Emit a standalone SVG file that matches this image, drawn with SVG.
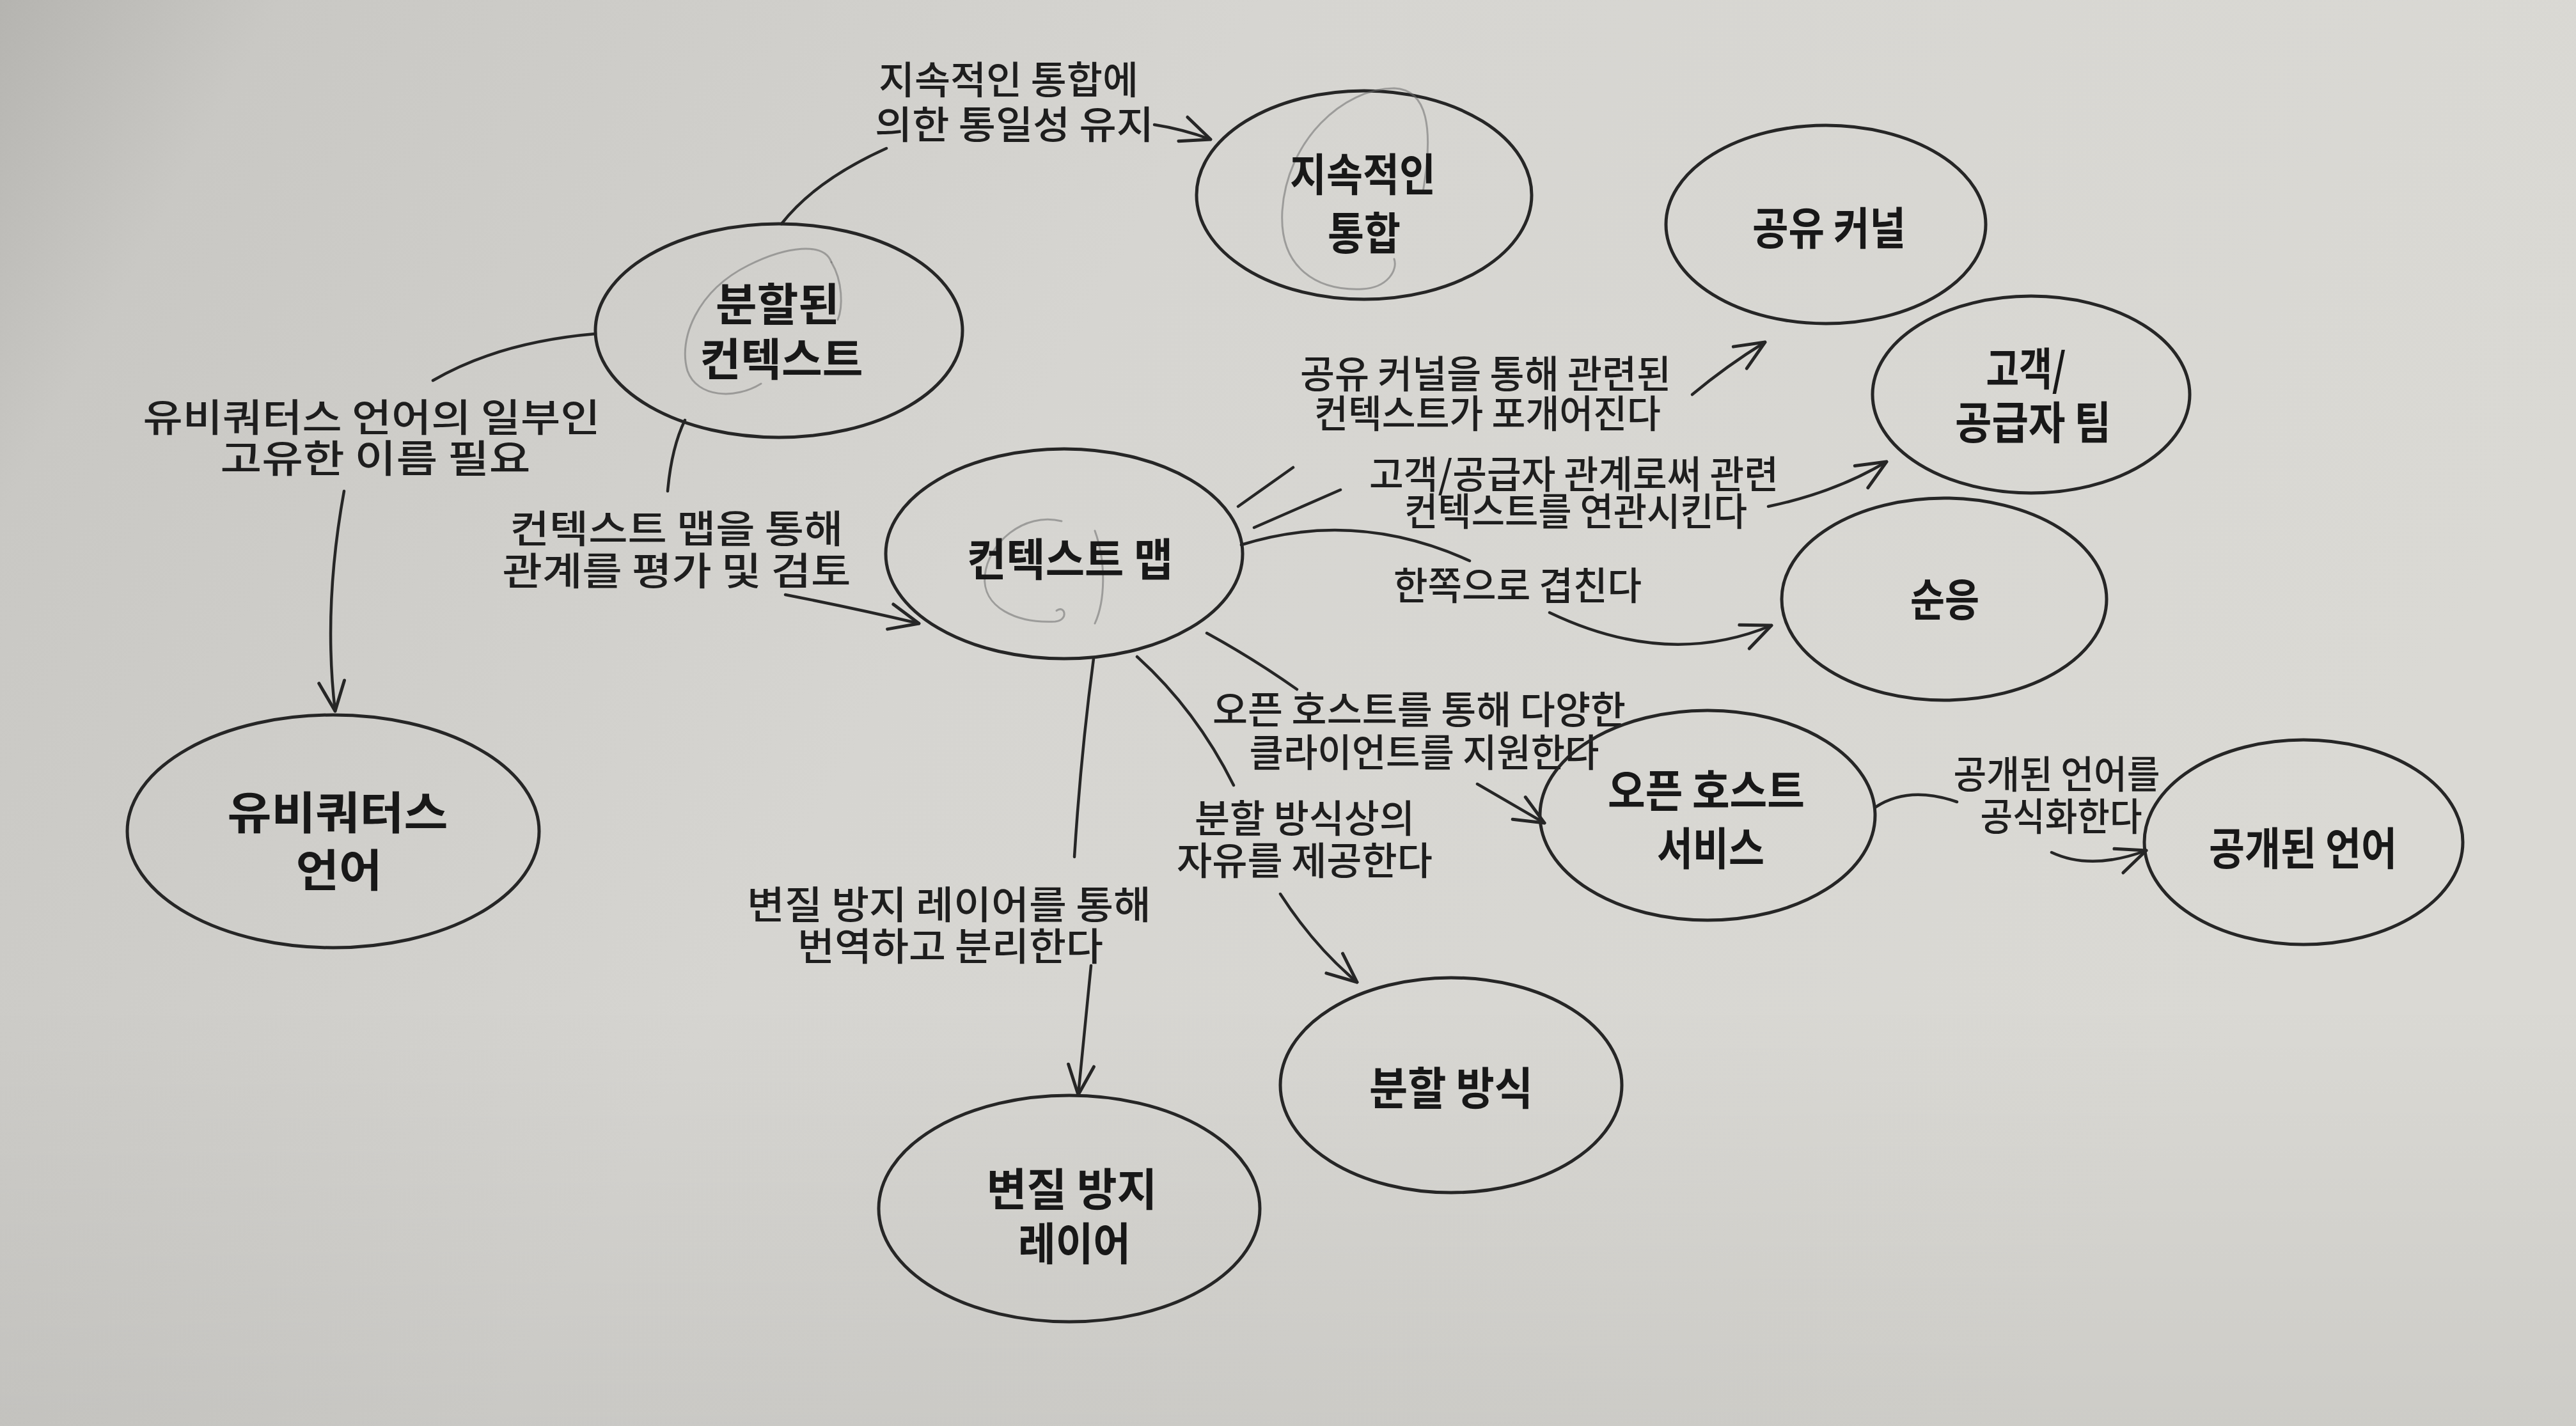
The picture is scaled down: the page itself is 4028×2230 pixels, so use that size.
<svg xmlns="http://www.w3.org/2000/svg" width="4028" height="2230" viewBox="0 0 4028 2230">
<defs>
<linearGradient id="bg" x1="0" y1="0" x2="1" y2="0.3">
<stop offset="0" stop-color="#b5b4b0"/>
<stop offset="0.1" stop-color="#c9c8c4"/>
<stop offset="0.45" stop-color="#d6d5d1"/>
<stop offset="1" stop-color="#dad9d4"/>
</linearGradient>
<linearGradient id="shade" x1="0" y1="0" x2="0" y2="1">
<stop offset="0" stop-color="#000" stop-opacity="0"/>
<stop offset="0.7" stop-color="#000" stop-opacity="0"/>
<stop offset="1" stop-color="#000" stop-opacity="0.06"/>
</linearGradient>
<marker id="arr" markerUnits="userSpaceOnUse" markerWidth="90" markerHeight="90" viewBox="-60 -45 90 90" refX="0" refY="0" orient="auto">
<path d="M -46 -20 L 0 0 L -46 20" fill="none" stroke="#262626" stroke-width="5" stroke-linecap="round" stroke-linejoin="round"/>
</marker>
<style>
.node ellipse{fill:none;stroke:#262626;stroke-width:5}
.nl{font-family:"Noto Sans CJK KR","Noto Sans",sans-serif;font-weight:700;font-size:70px;fill:#181818;text-anchor:middle;dominant-baseline:central}
.el{font-family:"Noto Sans CJK KR","Noto Sans",sans-serif;font-weight:500;font-size:60px;fill:#1e1e1e;text-anchor:middle;dominant-baseline:central}
.conn path{fill:none;stroke:#262626;stroke-width:4.5;stroke-linecap:round}
.conn path.a{marker-end:url(#arr)}
.pencil{fill:none;stroke:#6e6e6e;stroke-width:3;opacity:0.55;stroke-linecap:round}
</style>
</defs>
<rect width="4028" height="2230" fill="url(#bg)"/>
<rect width="4028" height="2230" fill="url(#shade)"/>

<g id="connectors" class="conn">
<path d="M 1222 350 Q 1275 282 1386 232"/>
<path class="a" d="M 1805 195 Q 1850 202 1893 218"/>
<path d="M 931 522 Q 780 535 677 595"/>
<path class="a" d="M 538 768 Q 505 950 524 1112"/>
<path d="M 1071 657 Q 1050 700 1044 768"/>
<path class="a" d="M 1228 930 Q 1340 952 1437 975"/>
<path d="M 1936 792 L 2022 731"/>
<path class="a" d="M 2646 617 Q 2700 572 2760 535"/>
<path d="M 1961 825 L 2096 766"/>
<path class="a" d="M 2765 792 Q 2870 770 2950 722"/>
<path d="M 1941 852 Q 2120 796 2298 877"/>
<path class="a" d="M 2423 958 Q 2607 1046 2770 978"/>
<path d="M 1887 990 Q 1960 1030 2028 1078"/>
<path class="a" d="M 2310 1226 L 2415 1287"/>
<path d="M 1778 1027 Q 1870 1110 1929 1228"/>
<path class="a" d="M 2002 1398 Q 2055 1480 2122 1536"/>
<path d="M 1710 1030 Q 1690 1180 1680 1340"/>
<path class="a" d="M 1706 1510 L 1686 1712"/>
<path d="M 2933 1262 Q 2985 1228 3060 1254"/>
<path class="a" d="M 3208 1333 Q 3270 1362 3356 1330"/>
</g>

<g id="edge-labels">
<text class="el" x="1577" y="120" textLength="406" lengthAdjust="spacingAndGlyphs">지속적인 통합에</text>
<text class="el" x="1586" y="190" textLength="436" lengthAdjust="spacingAndGlyphs">의한 통일성 유지</text>
<text class="el" x="581" y="648" textLength="715" lengthAdjust="spacingAndGlyphs">유비쿼터스 언어의 일부인</text>
<text class="el" x="587" y="712" textLength="485" lengthAdjust="spacingAndGlyphs">고유한 이름 필요</text>
<text class="el" x="1058" y="822" textLength="521" lengthAdjust="spacingAndGlyphs">컨텍스트 맵을 통해</text>
<text class="el" x="1058" y="888" textLength="545" lengthAdjust="spacingAndGlyphs">관계를 평가 및 검토</text>
<text class="el" x="2323" y="580" textLength="580" lengthAdjust="spacingAndGlyphs">공유 커널을 통해 관련된</text>
<text class="el" x="2326" y="642" textLength="542" lengthAdjust="spacingAndGlyphs">컨텍스트가 포개어진다</text>
<text class="el" x="2461" y="737" textLength="640" lengthAdjust="spacingAndGlyphs">고객/공급자 관계로써 관련</text>
<text class="el" x="2464" y="795" textLength="536" lengthAdjust="spacingAndGlyphs">컨텍스트를 연관시킨다</text>
<text class="el" x="2373" y="911" textLength="388" lengthAdjust="spacingAndGlyphs">한쪽으로 겹친다</text>
<text class="el" x="2219" y="1105" textLength="646" lengthAdjust="spacingAndGlyphs">오픈 호스트를 통해 다양한</text>
<text class="el" x="2227" y="1172" textLength="547" lengthAdjust="spacingAndGlyphs">클라이언트를 지원한다</text>
<text class="el" x="2040" y="1275" textLength="344" lengthAdjust="spacingAndGlyphs">분할 방식상의</text>
<text class="el" x="2040" y="1341" textLength="400" lengthAdjust="spacingAndGlyphs">자유를 제공한다</text>
<text class="el" x="1484" y="1410" textLength="632" lengthAdjust="spacingAndGlyphs">변질 방지 레이어를 통해</text>
<text class="el" x="1486" y="1475" textLength="478" lengthAdjust="spacingAndGlyphs">번역하고 분리한다</text>
<text class="el" x="3216" y="1206" textLength="323" lengthAdjust="spacingAndGlyphs">공개된 언어를</text>
<text class="el" x="3223" y="1272" textLength="253" lengthAdjust="spacingAndGlyphs">공식화한다</text>
</g>

<g id="node-continuous-integration" class="node">
<ellipse cx="2133" cy="305" rx="262" ry="163"/>
<path class="pencil" d="M 2225 300 C 2242 200 2232 140 2180 138 C 2100 138 2012 220 2005 330 C 2000 420 2060 455 2130 452 C 2170 450 2186 422 2180 405"/>
<text class="nl" x="2131" y="268" textLength="228" lengthAdjust="spacingAndGlyphs">지속적인</text>
<text class="nl" x="2133" y="360" textLength="114" lengthAdjust="spacingAndGlyphs">통합</text>
</g>

<g id="node-shared-kernel" class="node">
<ellipse cx="2855" cy="351" rx="250" ry="155"/>
<text class="nl" x="2860" y="352" textLength="240" lengthAdjust="spacingAndGlyphs">공유 커널</text>
</g>

<g id="node-bounded-context" class="node">
<ellipse cx="1218" cy="517" rx="287" ry="167"/>
<path class="pencil" d="M 1300 410 C 1288 378 1230 385 1170 415 C 1090 455 1060 530 1075 580 C 1090 622 1150 625 1190 600"/>
<path class="pencil" d="M 1300 410 C 1318 440 1318 480 1310 500"/>
<text class="nl" x="1216" y="471" textLength="194" lengthAdjust="spacingAndGlyphs">분할된</text>
<text class="nl" x="1222" y="557" textLength="255" lengthAdjust="spacingAndGlyphs">컨텍스트</text>
</g>

<g id="node-customer-supplier" class="node">
<ellipse cx="3176" cy="617" rx="248" ry="154"/>
<text class="nl" x="3168" y="572" textLength="125" lengthAdjust="spacingAndGlyphs">고객/</text>
<text class="nl" x="3179" y="656" textLength="244" lengthAdjust="spacingAndGlyphs">공급자 팀</text>
</g>

<g id="node-context-map" class="node">
<ellipse cx="1664" cy="866" rx="279" ry="164"/>
<path class="pencil" d="M 1660 815 C 1600 800 1545 850 1540 900 C 1535 950 1590 975 1650 972 C 1672 970 1665 945 1652 955"/>
<path class="pencil" d="M 1712 830 C 1730 880 1728 940 1712 975"/>
<text class="nl" x="1673" y="870" textLength="322" lengthAdjust="spacingAndGlyphs">컨텍스트 맵</text>
</g>

<g id="node-conformist" class="node">
<ellipse cx="3040" cy="937" rx="254" ry="158"/>
<text class="nl" x="3041" y="933" textLength="108" lengthAdjust="spacingAndGlyphs">순응</text>
</g>

<g id="node-ubiquitous-language" class="node">
<ellipse cx="521" cy="1300" rx="322" ry="182"/>
<text class="nl" x="528" y="1266" textLength="345" lengthAdjust="spacingAndGlyphs">유비쿼터스</text>
<text class="nl" x="530" y="1356" textLength="135" lengthAdjust="spacingAndGlyphs">언어</text>
</g>

<g id="node-open-host-service" class="node">
<ellipse cx="2670" cy="1275" rx="262" ry="164"/>
<text class="nl" x="2668" y="1232" textLength="308" lengthAdjust="spacingAndGlyphs">오픈 호스트</text>
<text class="nl" x="2675" y="1322" textLength="168" lengthAdjust="spacingAndGlyphs">서비스</text>
</g>

<g id="node-published-language" class="node">
<ellipse cx="3602" cy="1317" rx="249" ry="160"/>
<text class="nl" x="3601" y="1322" textLength="294" lengthAdjust="spacingAndGlyphs">공개된 언어</text>
</g>

<g id="node-separate-ways" class="node">
<ellipse cx="2269" cy="1697" rx="267" ry="168"/>
<text class="nl" x="2269" y="1697" textLength="256" lengthAdjust="spacingAndGlyphs">분할 방식</text>
</g>

<g id="node-anticorruption-layer" class="node">
<ellipse cx="1672" cy="1890" rx="298" ry="177"/>
<text class="nl" x="1676" y="1855" textLength="267" lengthAdjust="spacingAndGlyphs">변질 방지</text>
<text class="nl" x="1680" y="1940" textLength="176" lengthAdjust="spacingAndGlyphs">레이어</text>
</g>
</svg>
